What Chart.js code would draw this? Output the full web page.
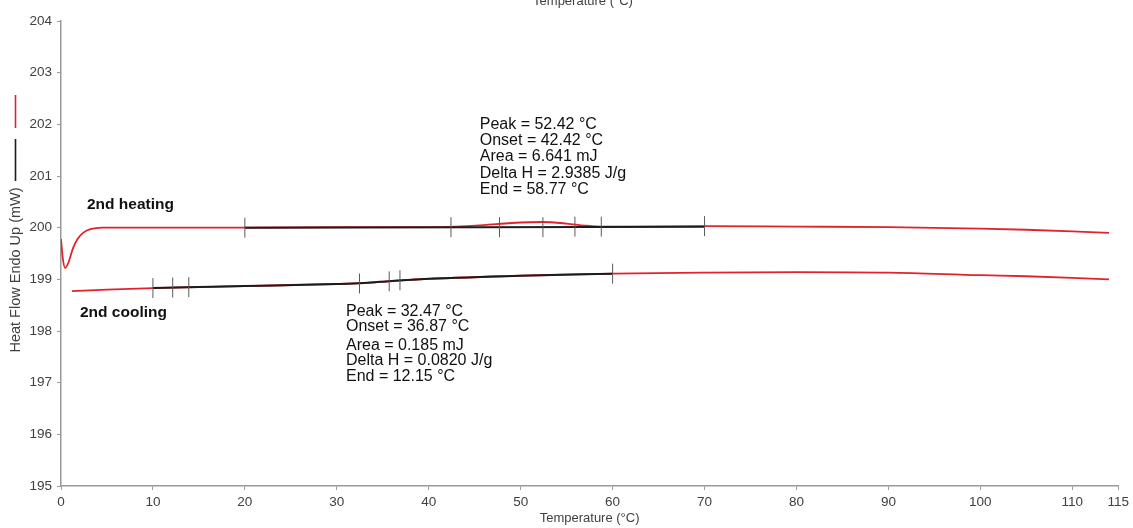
<!DOCTYPE html>
<html><head><meta charset="utf-8">
<script src="https://cdn.jsdelivr.net/npm/chart.js@4/dist/chart.umd.min.js"></script>
<style>html,body{margin:0;padding:0;background:#fff;overflow:hidden}#wrap{width:1133px;height:528px;position:relative}</style>
</head><body><div id="wrap"><canvas id="c" width="1133" height="528"></canvas></div>
<script>
// ---- data ----
const xTickValues = [0,10,20,30,40,50,60,70,80,90,100,110,115];
const yTickValues = [195,196,197,198,199,200,201,202,203,204];

const heatT  = [0, 0.2, 0.45, 0.8, 1.3, 1.8, 2.4, 3.2, 4.5, 10, 20, 30, 40, 43, 46, 49, 52.4, 55, 57, 58.8, 62, 70, 80, 90, 100, 105, 110, 114];
const heatHF = [199.78, 199.4, 199.22, 199.32, 199.6, 199.78, 199.9, 199.97, 200.0, 200.0, 200.0, 200.01, 200.01, 200.02, 200.05, 200.09, 200.11, 200.08, 200.04, 200.02, 200.02, 200.03, 200.02, 200.01, 199.98, 199.96, 199.93, 199.9];

const heatBaseT  = [20, 70];
const heatBaseHF = [200.0, 200.02];
const heatEventT  = [20, 42.42, 47.7, 52.42, 55.9, 58.77, 70];
const heatEventHF = [200.0, 200.01, 200.01, 200.01, 200.02, 200.02, 200.03];

const coolT  = [1.2, 5, 10, 15, 20, 25, 30, 33, 36, 38, 40, 45, 50, 55, 60, 70, 80, 90, 100, 105, 110, 114];
const coolHF = [198.77, 198.8, 198.83, 198.85, 198.87, 198.89, 198.91, 198.93, 198.97, 198.99, 199.01, 199.04, 199.07, 199.09, 199.11, 199.13, 199.14, 199.13, 199.08, 199.06, 199.03, 199.0];

const coolBaseT  = [10, 20, 30, 33, 36, 40, 50, 60];
const coolBaseHF = [198.83, 198.87, 198.91, 198.93, 198.97, 199.01, 199.07, 199.11];
const coolEventT  = [10, 12.15, 13.9, 32.47, 35.7, 36.87, 60];
const coolEventHF = [198.83, 198.84, 198.85, 198.92, 198.96, 198.98, 199.11];

const heatLabels = ["Peak = 52.42 °C", "Onset = 42.42 °C", "Area = 6.641 mJ", "Delta H = 2.9385 J/g", "End = 58.77 °C"];
const coolLabels = ["Peak = 32.47 °C", "Onset = 36.87 °C", "Area = 0.185 mJ", "Delta H = 0.0820 J/g", "End = 12.15 °C"];
const curveNames = ["2nd heating", "2nd cooling"];
const xTitle = "Temperature (°C)";
const yTitle = "Heat Flow Endo Up (mW)";

// ---- helpers ----
const pts = (xs, ys) => xs.map((x, i) => ({x: x, y: ys[i]}));
const RED = '#e3232b', BLACK = '#1c1c1c', AXIS = '#9a9a9a', TXT = '#404040';
const FONT = '"Liberation Sans", Arial, sans-serif';

const textPlugin = {
  id: 'texts',
  afterDraw(chart) {
    const ctx = chart.ctx, xs = chart.scales.x;
    ctx.save();
    ctx.fillStyle = TXT;
    ctx.font = '13px ' + FONT;
    ctx.textAlign = 'center';
    ctx.textBaseline = 'alphabetic';
    // top (cropped) axis title
    ctx.fillText(xTitle, 583, 5);
    // bottom axis title
    ctx.fillText(xTitle, (xs.left + xs.right) / 2, 522);
    // y axis title + legend strokes
    ctx.save();
    ctx.translate(20, 270);
    ctx.rotate(-Math.PI / 2);
    ctx.font = '14.5px ' + FONT;
    ctx.fillText(yTitle, 0, 0);
    ctx.restore();
    ctx.lineWidth = 1.6;
    ctx.strokeStyle = BLACK;
    ctx.beginPath(); ctx.moveTo(15.5, 139); ctx.lineTo(15.5, 181); ctx.stroke();
    ctx.strokeStyle = RED;
    ctx.beginPath(); ctx.moveTo(15.5, 95); ctx.lineTo(15.5, 128); ctx.stroke();

    // curve names
    ctx.fillStyle = '#111';
    ctx.textAlign = 'left';
    ctx.textBaseline = 'middle';
    ctx.font = 'bold 15.5px ' + FONT;
    ctx.fillText(curveNames[0], 87, 205);
    ctx.fillText(curveNames[1], 80, 313);

    // annotation blocks
    ctx.font = '16px ' + FONT;
    const hx = xs.getPixelForValue(45.55);
    const hy = [125, 140.5, 157, 173.5, 190];
    heatLabels.forEach((t, i) => ctx.fillText(t, hx, hy[i]));
    const cx = xs.getPixelForValue(31.0);
    const cy = [312, 327, 346, 361, 377];
    coolLabels.forEach((t, i) => ctx.fillText(t, cx, cy[i]));
    ctx.restore();
  }
};

new Chart(document.getElementById('c'), {
  type: 'line',
  data: {
    datasets: [
      { label: 'heat events', data: pts(heatEventT, heatEventHF), showLine: false, pointStyle: 'line', rotation: 90, pointRadius: 10, pointBorderColor: '#5a5a5a', pointBorderWidth: 1, order: 0 },
      { label: 'cool events', data: pts(coolEventT, coolEventHF), showLine: false, pointStyle: 'line', rotation: 90, pointRadius: 10, pointBorderColor: '#5a5a5a', pointBorderWidth: 1, order: 0 },
      { label: 'heat baseline', data: pts(heatBaseT, heatBaseHF), borderColor: BLACK, borderWidth: 2, pointRadius: 0, order: 1 },
      { label: 'cool baseline', data: pts(coolBaseT, coolBaseHF), borderColor: BLACK, borderWidth: 2, pointRadius: 0, cubicInterpolationMode: 'monotone', order: 1 },
      { label: curveNames[0], data: pts(heatT, heatHF), borderColor: RED, borderWidth: 1.8, pointRadius: 0, cubicInterpolationMode: 'monotone', order: 2 },
      { label: curveNames[1], data: pts(coolT, coolHF), borderColor: RED, borderWidth: 1.8, pointRadius: 0, cubicInterpolationMode: 'monotone', order: 2 }
    ]
  },
  options: {
    responsive: false,
    animation: false,
    devicePixelRatio: 1,
    layout: { padding: { top: 21, right: 12, left: 0, bottom: 0 } },
    plugins: { legend: { display: false }, tooltip: { enabled: false }, title: { display: false } },
    scales: {
      x: {
        type: 'linear', min: 0, max: 115,
        afterBuildTicks: s => { s.ticks = xTickValues.map(v => ({ value: v })); },
        afterFit: s => { s.height = 42; },
        ticks: { color: TXT, font: { size: 13.5, family: FONT }, padding: 4, maxRotation: 0, autoSkip: false },
        grid: { drawOnChartArea: false, drawTicks: true, tickLength: 4, color: AXIS, lineWidth: 1 },
        border: { display: true, color: AXIS, width: 1.5 }
      },
      y: {
        type: 'linear', min: 195, max: 204,
        afterBuildTicks: s => { s.ticks = yTickValues.map(v => ({ value: v })); },
        afterFit: s => { s.width = 61; },
        ticks: { color: TXT, font: { size: 13.5, family: FONT }, padding: 5 },
        grid: { drawOnChartArea: false, drawTicks: true, tickLength: 4, color: AXIS, lineWidth: 1 },
        border: { display: true, color: AXIS, width: 1.5 }
      }
    }
  },
  plugins: [textPlugin]
});
</script>
</body></html>
